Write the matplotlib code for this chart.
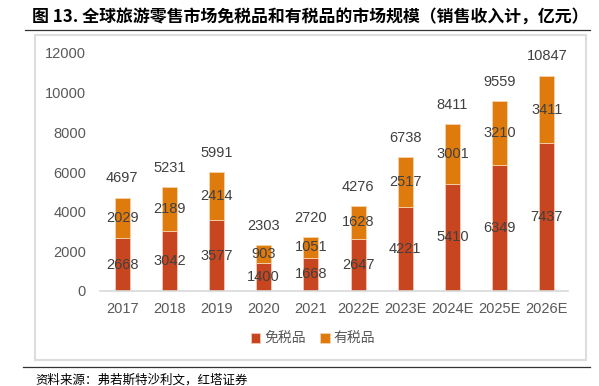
import matplotlib.pyplot as plt
from matplotlib.patches import Rectangle
from matplotlib.lines import Line2D

plt.rcParams['font.family'] = ['Liberation Sans', 'Noto Sans CJK SC', 'DejaVu Sans']

years = ['2017', '2018', '2019', '2020', '2021', '2022E', '2023E', '2024E', '2025E', '2026E']
duty_free = [2668, 3042, 3577, 1400, 1668, 2647, 4221, 5410, 6349, 7437]
duty_paid = [2029, 2189, 2414, 903, 1051, 1628, 2517, 3001, 3210, 3411]
totals = [4697, 5231, 5991, 2303, 2720, 4276, 6738, 8411, 9559, 10847]

c_free = '#C8461F'
c_paid = '#DF7B0D'
lab_col = '#404040'

fig = plt.figure(figsize=(5.99, 3.86), dpi=100)

# title + rules
fig.text(32 / 599, 1 - 17 / 386, '图 13. 全球旅游零售市场免税品和有税品的市场规模（销售收入计，亿元）',
         fontsize=12.2, fontweight='bold', va='center', ha='left',
         family=['Noto Sans CJK SC', 'DejaVu Sans'])
fig.add_artist(Line2D([25 / 599, 590 / 599], [1 - 30 / 386] * 2, color='#333333', lw=0.9))
fig.add_artist(Line2D([23 / 599, 590 / 599], [1 - 367 / 386] * 2, color='#333333', lw=0.9))
fig.add_artist(Rectangle((35 / 599, 1 - 360 / 386), 551 / 599, 325 / 386,
                         fill=False, edgecolor='#dddddd', lw=1.5))
fig.text(35 / 599, 1 - 380 / 386, '资料来源：弗若斯特沙利文，红塔证券', fontsize=9,
         va='center', ha='left', family=['Noto Sans CJK SC', 'DejaVu Sans'])

ax = fig.add_axes([100 / 599, 1 - 291 / 386, 468 / 599, 238 / 386])
x = range(len(years))
w = 0.32
b1 = ax.bar(x, duty_free, w, color=c_free, edgecolor='#f3c9b8', lw=0.6, label='免税品')
b2 = ax.bar(x, duty_paid, w, bottom=duty_free, color=c_paid, edgecolor='#f5d3b0', lw=0.6, label='有税品')

for i in x:
    ax.text(i, duty_free[i] / 2, str(duty_free[i]), ha='center', va='center', fontsize=10.5, color=lab_col)
    ax.text(i, duty_free[i] + duty_paid[i] / 2, str(duty_paid[i]), ha='center', va='center',
            fontsize=10.5, color=lab_col)
    ax.annotate(str(totals[i]), (i, totals[i]), xytext=(0, 14), textcoords='offset points',
                ha='center', va='center', fontsize=10.5, color=lab_col, annotation_clip=False)

ax.set_ylim(0, 12000)
ax.set_xlim(-0.47, 9.45)
ax.set_yticks(range(0, 12001, 2000))
ax.set_xticks(list(x))
ax.set_xticklabels(years)
ax.tick_params(axis='both', length=0, labelsize=10.5, labelcolor='#595959')
ax.tick_params(axis='y', pad=10)
ax.tick_params(axis='x', pad=8)
for s in ['left', 'right', 'top']:
    ax.spines[s].set_visible(False)
ax.spines['bottom'].set_color('#d9d9d9')
ax.spines['bottom'].set_linewidth(1.2)

fig.legend(handles=[b1, b2], loc='center', bbox_to_anchor=(313 / 599, 1 - 339 / 386), ncol=2,
           frameon=False, handlelength=0.7, handleheight=0.7, handletextpad=0.3, columnspacing=1.0,
           prop={'family': ['Noto Sans CJK SC', 'DejaVu Sans'], 'size': 10}, labelcolor='#595959')

fig.savefig('out.png', dpi=100)
